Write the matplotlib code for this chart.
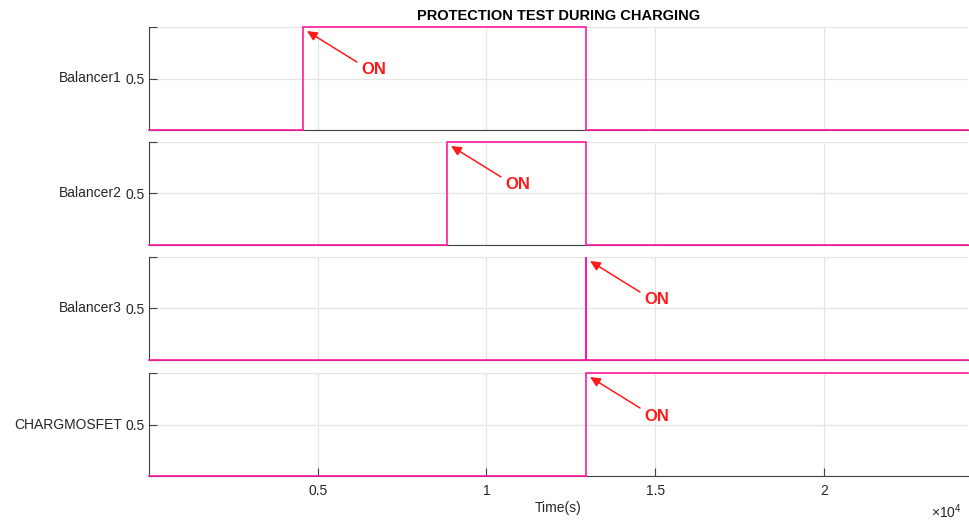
import matplotlib
matplotlib.use("Agg")
import matplotlib.pyplot as plt
from matplotlib.ticker import FixedLocator, FuncFormatter
from matplotlib.transforms import offset_copy

plt.rcParams['font.family'] = ['Liberation Sans', 'DejaVu Sans']
plt.rcParams['mathtext.fontset'] = 'custom'
plt.rcParams['mathtext.rm'] = 'Liberation Sans'
plt.rcParams['mathtext.it'] = 'Liberation Sans'

# Switching events (time in seconds, logic state held from that time on)
t_end = 24270
signal_names = ["Balancer1", "Balancer2", "Balancer3", "CHARGMOSFET"]
balancer1_t = [0, 4560, 12950, t_end]
balancer1_v = [0, 1, 0, 0]
balancer2_t = [0, 8830, 12950, t_end]
balancer2_v = [0, 1, 0, 0]
balancer3_t = [0, 12950, 12958, t_end]
balancer3_v = [0, 1, 0, 0]
chargmosfet_t = [0, 12950, t_end]
chargmosfet_v = [0, 1, 1]
# Time at which each signal switches ON (where the annotation points)
on_times = [4560, 8830, 12950, 12950]

x_ticks = [5000, 10000, 15000, 20000]
y_ticks = [0, 0.5, 1]
y_tick_labels = ["", "0.5", ""]
title = "PROTECTION TEST DURING CHARGING"
x_label = "Time(s)"
note = "ON"

series = [(balancer1_t, balancer1_v), (balancer2_t, balancer2_v),
          (balancer3_t, balancer3_v), (chargmosfet_t, chargmosfet_v)]

W, H = 969, 520
fig = plt.figure(figsize=(W / 100, H / 100), dpi=100)

line_color = "#ff1aa0"
grid_color = "#e4e4e4"
axis_color = "#404040"
text_color = "#262626"

left = 149 / W
width = 819 / W
height = 103 / H
bottoms = [0.75, 0.529, 0.3077, 0.0846]

axes = []
for i, (name, (t, v), t_on) in enumerate(zip(signal_names, series, on_times)):
    ax = fig.add_axes([left, bottoms[i], width, height])
    axes.append(ax)
    ax.plot(t, v, drawstyle="steps-post", color=line_color, lw=1.2,
            clip_on=False, zorder=5, solid_joinstyle="miter")
    ax.set_xlim(0, t_end)
    ax.set_ylim(0, 1)
    ax.xaxis.set_major_locator(FixedLocator(x_ticks))
    ax.set_yticks(y_ticks)
    ax.set_yticklabels(y_tick_labels)
    ax.grid(True, color=grid_color, lw=0.9)
    ax.set_axisbelow(True)
    for s in ("top", "right"):
        ax.spines[s].set_visible(False)
    for s in ("left", "bottom"):
        ax.spines[s].set_color(axis_color)
        ax.spines[s].set_linewidth(0.8)
    ax.tick_params(direction="in", length=6, width=0.8, color=axis_color,
                   labelcolor=text_color, labelsize=10)
    ax.tick_params(axis="y", pad=3)
    ax.tick_params(axis="x", pad=6)
    ax.set_ylabel(name, rotation=0, ha="right", va="center",
                  fontsize=10, color=text_color)
    ax.yaxis.set_label_coords(-27 / 819, 0.5)
    if i < 3:
        ax.tick_params(axis="x", labelbottom=False, length=0)
    else:
        ax.xaxis.set_major_formatter(FuncFormatter(lambda x, p: "%g" % (x / 1e4)))
        ax.set_xlabel(x_label, fontsize=10, color=text_color, labelpad=2)

    # Arrow and "ON" note at the switching edge
    tip = offset_copy(ax.transData, fig=fig, x=4, y=-4, units="dots")
    ax.annotate("", xy=(t_on, 1), xycoords=tip,
                xytext=(50, -31), textcoords="offset pixels",
                arrowprops=dict(arrowstyle="-|>,head_length=0.6,head_width=0.28",
                                color="#ff1a1a", lw=1.1, shrinkA=0, shrinkB=0,
                                mutation_scale=10), annotation_clip=False)
    ax.annotate(note, xy=(t_on, 1), xycoords=tip,
                xytext=(54, -39), textcoords="offset pixels",
                ha="left", va="center", fontsize=12, fontweight="bold",
                color="#ff1a1a", annotation_clip=False)

axes[0].set_title(title, fontsize=10.5, fontweight="bold", color="black", pad=5)
fig.text(962 / W, 1 - 512 / H, r"$\times10^{4}$", ha="right", va="center",
         fontsize=10, color=text_color)

fig.savefig("out.png", dpi=100, facecolor="white")
